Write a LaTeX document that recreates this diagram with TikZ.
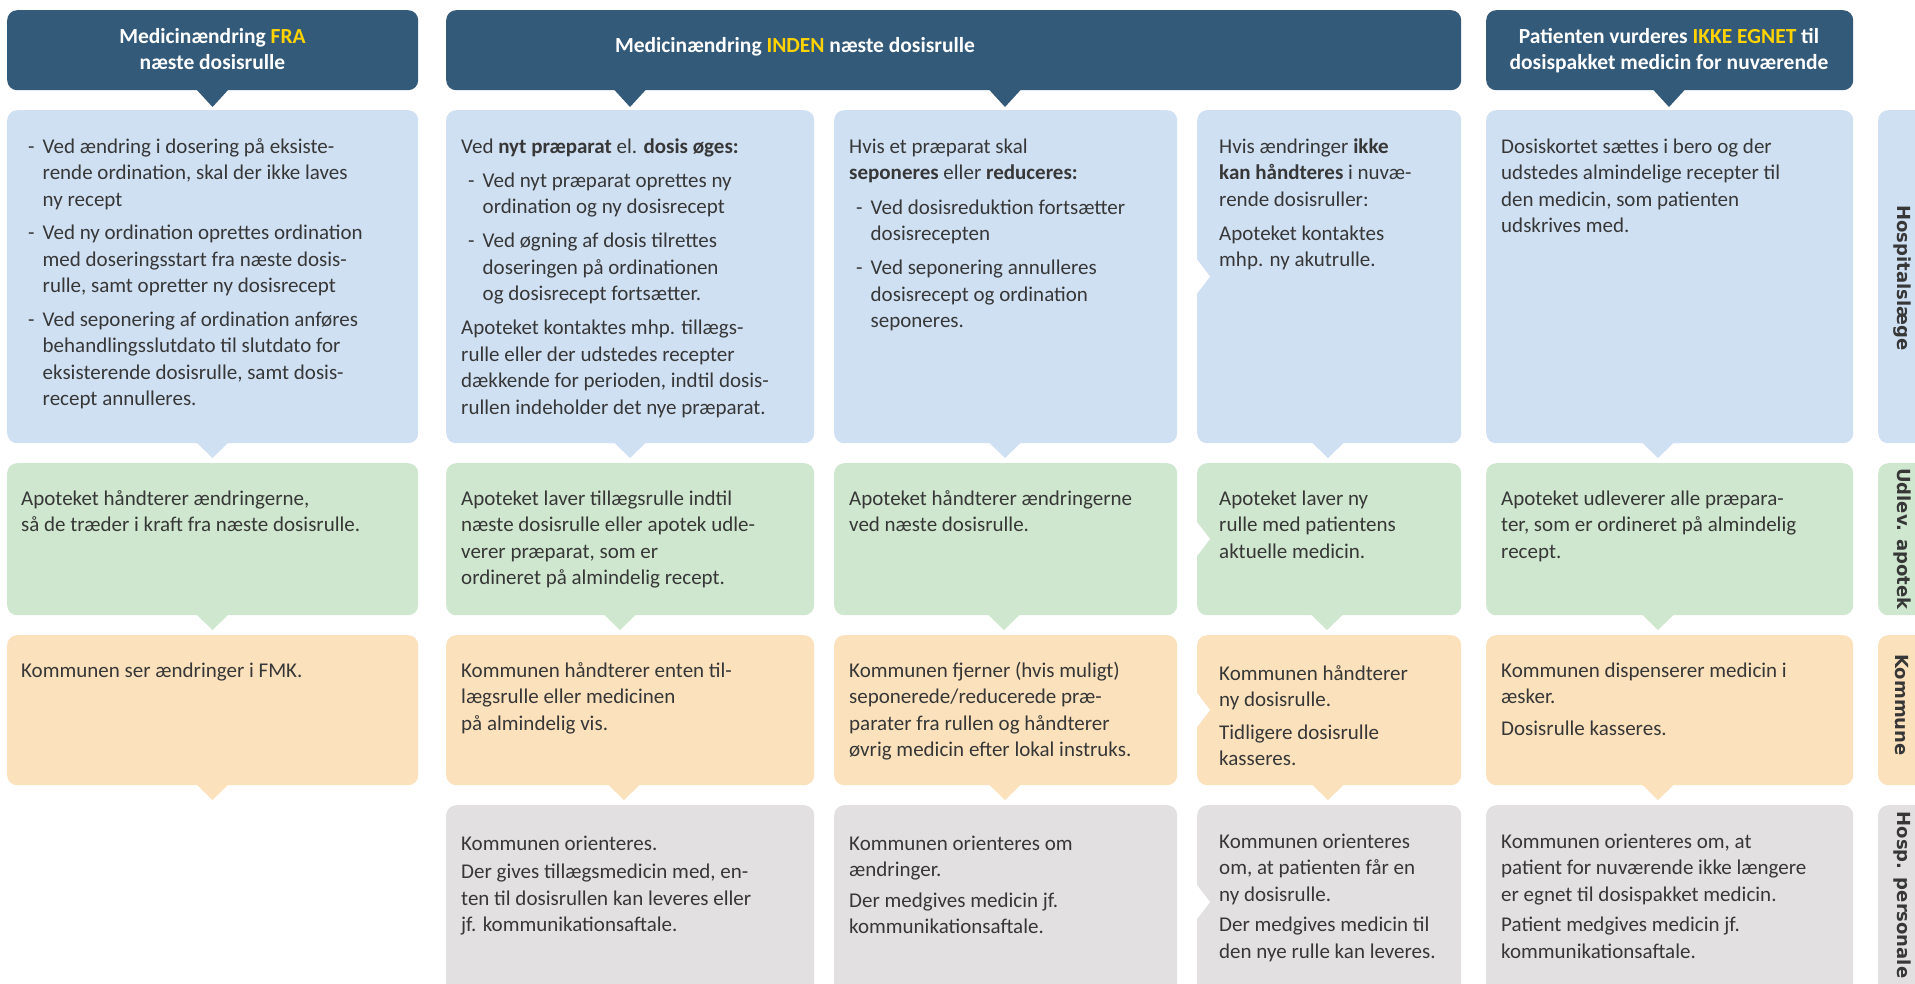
\documentclass[tikz,border=0pt]{standalone}
\usepackage{fontspec}
\setmainfont{Carlito}
\newfontfamily\lanefont{DejaVu Sans}

\definecolor{headnavy}{RGB}{51,90,121}
\definecolor{hiyellow}{RGB}{255,210,0}
\definecolor{docblue}{RGB}{207,224,243}
\definecolor{pharmgreen}{RGB}{207,231,206}
\definecolor{townorange}{RGB}{251,225,188}
\definecolor{staffgray}{RGB}{226,224,225}
\definecolor{inktext}{RGB}{55,55,55}

\newcommand\bodyfont{\fontsize{21}{26.5}\selectfont}
\newcommand\headfont{\fontsize{21.5}{26}\selectfont\bfseries}
\newcommand\dashlead{\makebox[14.5pt][l]{-}}
\newcommand\contlead{\hspace*{14.5pt}}
\newcommand\subind{\hspace*{7pt}}
\newcommand\hilite[1]{\textcolor{hiyellow}{#1}}
\newcommand\firstline{\rule{0pt}{20pt}}

% rounded panel: name, colour, x1, y1, x2, y2
\newcommand\panel[6]{%
  \node[panelbox, fill=#2, minimum width={#5-#3}, minimum height={#6-#4}] (#1) at (#3,#4) {};}
% downward pointer under a panel: colour, x, bottom edge, height
\newcommand\tipdown[4]{%
  \fill[#1] (#2-16.5,#3-1) -- (#2+16.5,#3-1) -- (#2,#3+#4) -- cycle;}
% notch cut into the left edge of a panel: edge x, centre y
\newcommand\notchleft[2]{%
  \fill[white] (#1-6,#2-17) -- (#1,#2-17) -- (#1+13,#2) -- (#1,#2+17) -- (#1-6,#2+17) -- cycle;}

\tikzset{
  panelbox/.style={rectangle, rounded corners=10pt, inner sep=0pt, anchor=north west, draw=none},
  txt/.style={anchor=north west, inner sep=0pt, align=left, text=inktext, font=\bodyfont},
  headtxt/.style={anchor=north, inner sep=0pt, align=center, text=white, font=\headfont},
  lanetxt/.style={anchor=center, inner sep=0pt, rotate=-90, text=inktext,
    font={\lanefont\bfseries\fontsize{18}{18}\selectfont}},
}

\begin{document}
\begin{tikzpicture}[x=1pt, y=-1pt]
\fill[white] (0,0) rectangle (1915,983);
\useasboundingbox (0,0) rectangle (1915,983);

% ---------- column headers ----------
\panel{H1}{headnavy}{7}{10}{418}{90}
\panel{H2}{headnavy}{446}{10}{1461}{90}
\panel{H3}{headnavy}{1486}{10}{1853}{90}
\tipdown{headnavy}{212.5}{90}{17}
\tipdown{headnavy}{630}{90}{17}
\tipdown{headnavy}{1005}{90}{17}
\tipdown{headnavy}{1669}{90}{17}
\node[headtxt] (H1t) at (212.5,23) {\firstline Medicinændring \hilite{FRA}\\ næste dosisrulle};
\node[headtxt] (H2t) at (795,32) {\firstline Medicinændring \hilite{INDEN} næste dosisrulle};
\node[headtxt] (H3t) at (1669,23) {\firstline Patienten vurderes \hilite{IKKE EGNET} til\\ dosispakket medicin for nuværende};

% ---------- row 1: hospital doctor ----------
\panel{A1}{docblue}{7}{110}{418}{443}
\panel{B1}{docblue}{446}{110}{814}{443}
\panel{C1}{docblue}{834}{110}{1177}{443}
\panel{D1}{docblue}{1197}{110}{1461}{443}
\panel{E1}{docblue}{1486}{110}{1853}{443}
\panel{L1}{docblue}{1878}{110}{1945}{443}
\notchleft{1197}{276.5}
\tipdown{docblue}{212.5}{443}{15}
\tipdown{docblue}{630}{443}{15}
\tipdown{docblue}{1005}{443}{15}
\tipdown{docblue}{1328}{443}{15}
\tipdown{docblue}{1658}{443}{15}

\node[txt] (A1t) at (28,133) {\firstline\dashlead Ved ændring i dosering på eksiste-\\
\contlead rende ordination, skal der ikke laves\\
\contlead ny recept\\[7pt]
\dashlead Ved ny ordination oprettes ordination\\
\contlead med doseringsstart fra næste dosis-\\
\contlead rulle, samt opretter ny dosisrecept\\[7pt]
\dashlead Ved seponering af ordination anføres\\
\contlead behandlingsslutdato til slutdato for\\
\contlead eksisterende dosisrulle, samt dosis-\\
\contlead recept annulleres.};

\node[txt] (B1t) at (461,133) {\firstline Ved \textbf{nyt præparat} el. \textbf{dosis øges:}\\[7.5pt]
\subind\dashlead Ved nyt præparat oprettes ny\\
\subind\contlead ordination og ny dosisrecept\\[7.5pt]
\subind\dashlead Ved øgning af dosis tilrettes\\
\subind\contlead doseringen på ordinationen\\
\subind\contlead og dosisrecept fortsætter.\\[7.5pt]
Apoteket kontaktes mhp. tillægs-\\
rulle eller der udstedes recepter\\
dækkende for perioden, indtil dosis-\\
rullen indeholder det nye præparat.};

\node[txt] (C1t) at (849,133) {\firstline Hvis et præparat skal\\
\textbf{seponeres} eller \textbf{reduceres:}\\[8pt]
\subind\dashlead Ved dosisreduktion fortsætter\\
\subind\contlead dosisrecepten\\[7.5pt]
\subind\dashlead Ved seponering annulleres\\
\subind\contlead dosisrecept og ordination\\
\subind\contlead seponeres.};

\node[txt] (D1t) at (1219,133) {\firstline Hvis ændringer \textbf{ikke}\\
\textbf{kan håndteres} i nuvæ-\\
rende dosisruller:\\[7.5pt]
Apoteket kontaktes\\
mhp. ny akutrulle.};

\node[txt] (E1t) at (1501,133) {\firstline Dosiskortet sættes i bero og der\\
udstedes almindelige recepter til\\
den medicin, som patienten\\
udskrives med.};

\node[lanetxt] (L1t) at (1902,278) {Hospitalslæge};

% ---------- row 2: dispensing pharmacy ----------
\panel{A2}{pharmgreen}{7}{463}{418}{615}
\panel{B2}{pharmgreen}{446}{463}{814}{615}
\panel{C2}{pharmgreen}{834}{463}{1177}{615}
\panel{D2}{pharmgreen}{1197}{463}{1461}{615}
\panel{E2}{pharmgreen}{1486}{463}{1853}{615}
\panel{L2}{pharmgreen}{1878}{463}{1945}{615}
\notchleft{1197}{539}
\tipdown{pharmgreen}{212.5}{615}{15}
\tipdown{pharmgreen}{620}{615}{15}
\tipdown{pharmgreen}{1004}{615}{15}
\tipdown{pharmgreen}{1327}{615}{15}
\tipdown{pharmgreen}{1658}{615}{15}

\node[txt] (A2t) at (21,485) {\firstline Apoteket håndterer ændringerne,\\
så de træder i kraft fra næste dosisrulle.};
\node[txt] (B2t) at (461,485) {\firstline Apoteket laver tillægsrulle indtil\\
næste dosisrulle eller apotek udle-\\
verer præparat, som er\\
ordineret på almindelig recept.};
\node[txt] (C2t) at (849,485) {\firstline Apoteket håndterer ændringerne\\
ved næste dosisrulle.};
\node[txt] (D2t) at (1219,485) {\firstline Apoteket laver ny\\
rulle med patientens\\
aktuelle medicin.};
\node[txt] (E2t) at (1501,485) {\firstline Apoteket udleverer alle præpara-\\
ter, som er ordineret på almindelig\\
recept.};

\node[lanetxt] (L2t) at (1902,539) {Udlev. apotek};

% ---------- row 3: municipality ----------
\panel{A3}{townorange}{7}{635}{418}{785}
\panel{B3}{townorange}{446}{635}{814}{785}
\panel{C3}{townorange}{834}{635}{1177}{785}
\panel{D3}{townorange}{1197}{635}{1461}{785}
\panel{E3}{townorange}{1486}{635}{1853}{785}
\panel{L3}{townorange}{1878}{635}{1945}{785}
\notchleft{1197}{710}
\tipdown{townorange}{212.5}{785}{15}
\tipdown{townorange}{624}{785}{15}
\tipdown{townorange}{1005}{785}{15}
\tipdown{townorange}{1328}{785}{15}
\tipdown{townorange}{1658}{785}{15}

\node[txt] (A3t) at (21,657) {\firstline Kommunen ser ændringer i FMK.};
\node[txt] (B3t) at (461,657) {\firstline Kommunen håndterer enten til-\\
lægsrulle eller medicinen\\
på almindelig vis.};
\node[txt] (C3t) at (849,657) {\firstline Kommunen fjerner (hvis muligt)\\
seponerede/reducerede præ-\\
parater fra rullen og håndterer\\
øvrig medicin efter lokal instruks.};
\node[txt] (D3t) at (1219,660) {\firstline Kommunen håndterer\\
ny dosisrulle.\\[6pt]
Tidligere dosisrulle\\
kasseres.};
\node[txt] (E3t) at (1501,657) {\firstline Kommunen dispenserer medicin i\\
æsker.\\[5pt]
Dosisrulle kasseres.};

\node[lanetxt] (L3t) at (1902,705) {Kommune};

% ---------- row 4: hospital staff ----------
\panel{B4}{staffgray}{446}{805}{814}{1000}
\panel{C4}{staffgray}{834}{805}{1177}{1000}
\panel{D4}{staffgray}{1197}{805}{1461}{1000}
\panel{E4}{staffgray}{1486}{805}{1853}{1000}
\panel{L4}{staffgray}{1878}{805}{1945}{1000}
\notchleft{1197}{902}

\node[txt] (B4t) at (461,830) {\firstline Kommunen orienteres.\\[2pt]
Der gives tillægsmedicin med, en-\\
ten til dosisrullen kan leveres eller\\
jf. kommunikationsaftale.};
\node[txt] (C4t) at (849,830) {\firstline Kommunen orienteres om\\
ændringer.\\[4pt]
Der medgives medicin jf.\\
kommunikationsaftale.};
\node[txt] (D4t) at (1219,828) {\firstline Kommunen orienteres\\
om, at patienten får en\\
ny dosisrulle.\\[4pt]
Der medgives medicin til\\
den nye rulle kan leveres.};
\node[txt] (E4t) at (1501,828) {\firstline Kommunen orienteres om, at\\
patient for nuværende ikke længere\\
er egnet til dosispakket medicin.\\[4pt]
Patient medgives medicin jf.\\
kommunikationsaftale.};

\node[lanetxt] (L4t) at (1902,895) {Hosp. personale};
\end{tikzpicture}
\end{document}
